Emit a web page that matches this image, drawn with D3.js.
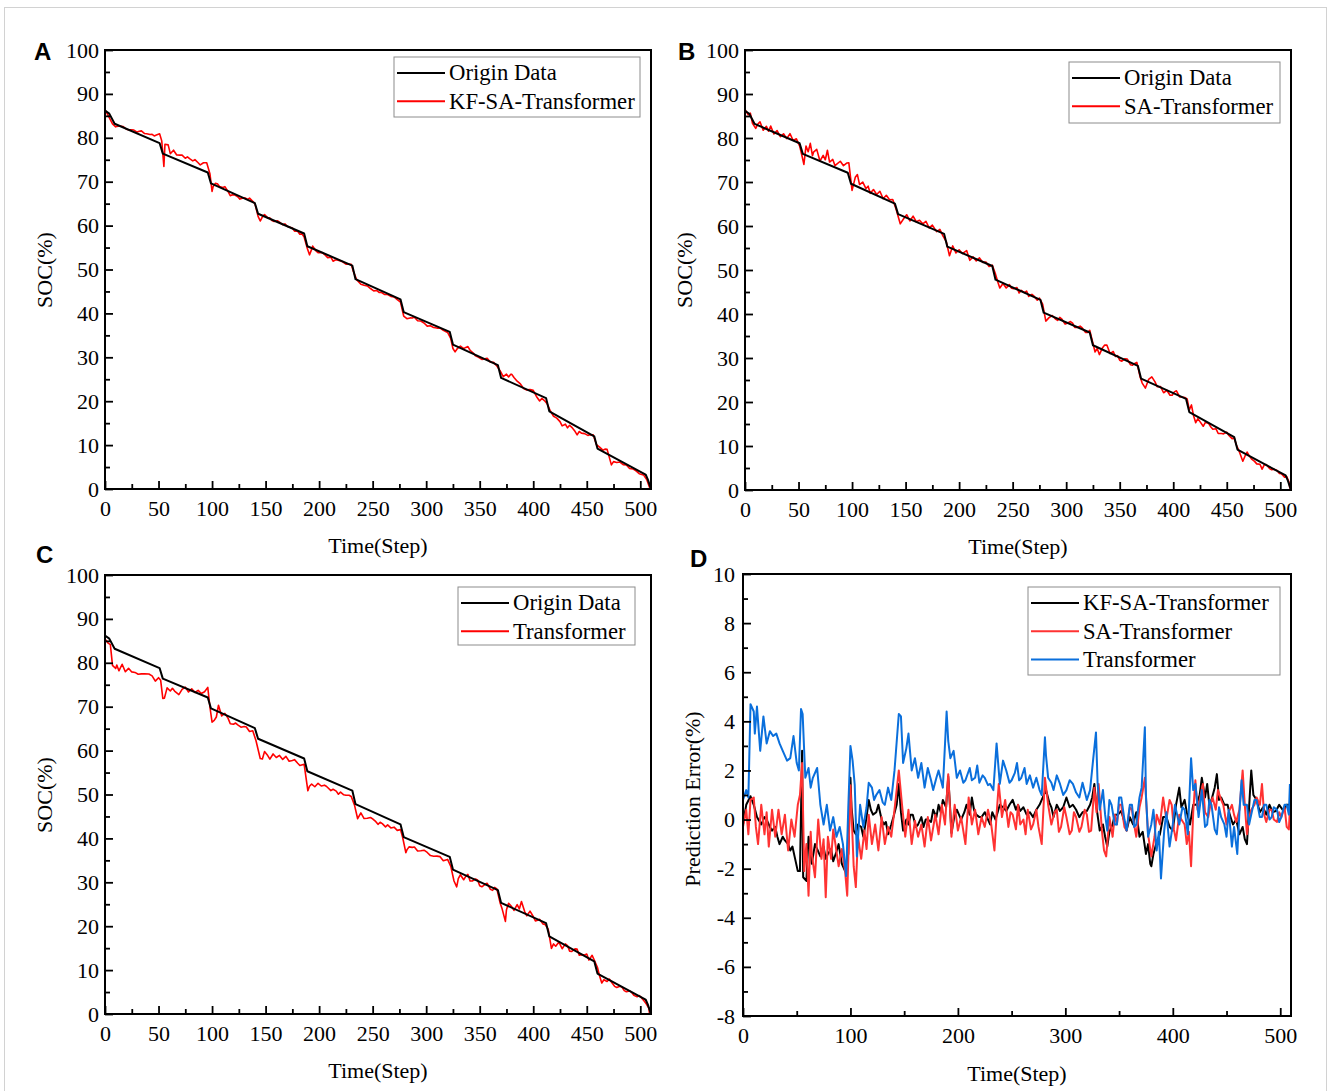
<!DOCTYPE html>
<html>
<head>
<meta charset="utf-8">
<script src="https://cdn.jsdelivr.net/npm/d3@7"></script>
<style>
  body { margin: 0; background: #fff; }
  svg text { font-family: "Liberation Serif", "Times New Roman", serif; fill: #000; }
</style>
</head>
<body>
<svg width="1330" height="1091"></svg>
<script>
// measured SOC staircase (step, %)
const originSteps = [0, 4, 9, 51, 54, 96, 99, 140, 143, 186, 189, 231, 234, 276, 279, 322, 325, 367, 370, 412, 415, 457, 460, 505, 507, 510];
const originSOC = [86.2, 85.5, 83.2, 78.8, 76.4, 72.1, 69.6, 65.1, 62.7, 58.2, 55.3, 50.9, 47.8, 43.2, 40.3, 35.8, 32.9, 28.2, 25.3, 20.7, 17.7, 12, 9.2, 3.3, 2.2, 0];

// prediction errors (origin - prediction)
const errKF = [[0,-0.2],[3,0.6],[7,0.95],[10,0.6],[13,0.1],[17,-0.2],[20,0.1],[22,0],[25,-0.3],[27,-0.45],[30,-0.3],[32,-0.7],[34,-1],[37,-0.7],[39,-0.85],[42,-1.0],[44,-1.26],[46,-1.1],[48,-1.5],[51,-2.1],[53,-2.1],[55,2.8],[56,-2.35],[59,-2.5],[61,-0.7],[64,-1.8],[67,-1.0],[70,-1.3],[72,-1.5],[75,-1.1],[77,-1.6],[79,-1.4],[82,-1.2],[84,-1.7],[87,-1.3],[89,-1.0],[92,-1.8],[95,-2.1],[98,-1.4],[100,1.7],[101,0.5],[103,-0.45],[105,-0.6],[107,-0.2],[110,-0.3],[112,-0.7],[115,0.1],[117,0.8],[119,0.4],[121,0.2],[124,0.3],[126,0.6],[129,0.0],[131,-0.2],[133,-0.1],[135,-0.6],[138,-0.2],[140,0.1],[143,0.6],[145,1.45],[147,0.3],[149,-0.45],[152,0.0],[154,-0.2],[156,0.2],[158,0.2],[161,-0.3],[163,-0.2],[166,0.1],[168,-0.3],[170,0.0],[172,0.0],[175,-0.1],[177,0.4],[180,0.1],[182,0.6],[184,0.3],[186,0.8],[189,0.5],[191,1.75],[193,0.3],[194,-0.55],[197,0.2],[199,0.4],[201,0.2],[203,0.0],[206,0.3],[208,0.6],[211,0.2],[213,0.9],[215,0.4],[217,0.2],[220,0.1],[222,0.1],[225,0.3],[227,0.1],[230,-0.2],[232,0.3],[235,0.0],[237,0.3],[239,0.6],[242,0.5],[245,0.35],[248,0.6],[251,0.8],[254,0.4],[256,0.6],[258,0.35],[261,0.5],[264,0.2],[267,0.3],[270,0.1],[273,0.4],[276,0.6],[279,0.9],[282,1.2],[285,0.7],[287,0.5],[289,0.1],[292,0.6],[295,0.35],[298,0.5],[301,0.9],[304,0.5],[307,0.6],[310,0.4],[313,0.1],[316,0.3],[320,0.35],[323,0.6],[325,0.9],[327,1.45],[329,0.5],[332,-0.45],[335,-0.2],[337,-0.7],[339,-1.1],[341,-0.5],[344,-0.2],[346,0.2],[349,0.2],[352,0.35],[355,-0.1],[357,-0.45],[360,0.1],[363,-0.2],[366,0.3],[369,-0.7],[372,-0.5],[375,-1.4],[377,-1.0],[379,-1.8],[380,-1.9],[382,-1.4],[385,-0.9],[388,-0.6],[391,0.1],[394,0.1],[397,-0.3],[400,-0.45],[403,0.6],[406,1.3],[408,0.5],[411,0.8],[413,0.3],[416,-0.2],[419,0.6],[422,0.6],[425,1.0],[427,1.7],[430,0.9],[432,1.45],[434,0.6],[436,0.8],[439,1.3],[441,1.85],[443,0.8],[445,0.9],[448,0.6],[451,0.6],[453,0.2],[456,-0.2],[459,0.0],[462,-0.6],[465,-0.3],[467,-0.8],[469,-1.0],[471,0.5],[473,2.0],[475,1.0],[478,0.8],[481,0.3],[484,0.5],[487,0.2],[490,0.6],[493,0.3],[496,0.35],[499,0.6],[503,0.35],[506,0.6],[509,0.6]];

const errSA = [[0,-0.3],[3,0.4],[5,-0.6],[7,0.8],[10,0.9],[12,-0.3],[14,-1.0],[17,0.6],[20,-0.6],[22,0.3],[24,-1.1],[27,0.4],[30,-0.7],[33,0.4],[36,-0.6],[39,0.2],[42,-1.26],[45,0.0],[48,-0.7],[51,0.6],[53,1.0],[55,2.3],[57,-2.1],[59,-1.0],[61,-3.1],[63,-0.5],[64,-1.4],[67,-2.35],[70,0.0],[73,-1.6],[75,-0.8],[77,-3.16],[79,-0.7],[82,-1.6],[84,-0.4],[86,-1.0],[89,-1.9],[92,-1.2],[95,-2.1],[97,-3.1],[100,1.4],[103,-1.9],[105,-2.75],[107,-0.7],[110,-1.6],[113,-0.45],[115,-1.2],[117,0.2],[120,-1.0],[123,-0.2],[126,-1.26],[129,0.1],[132,-1.0],[135,-0.3],[138,-0.7],[141,0.4],[145,2.0],[148,0.6],[151,-0.7],[154,0.4],[157,-1.0],[160,-0.05],[163,-0.7],[166,-0.2],[169,-1.1],[172,0.1],[175,-0.85],[179,0.2],[182,-0.6],[185,0.6],[188,-0.2],[191,1.85],[194,-0.7],[197,0.6],[200,-0.45],[203,0.1],[207,-1.0],[210,0.9],[213,-0.2],[216,0.4],[219,-0.6],[222,0.1],[225,-0.3],[228,0.4],[231,-0.2],[234,-1.26],[236,0.2],[238,1.45],[241,0.1],[244,0.8],[247,-0.3],[249,0.3],[251,0.2],[254,-0.4],[256,0.6],[258,-0.2],[261,0.0],[263,-0.6],[265,0.4],[268,-0.4],[270,-0.2],[273,0.4],[275,-0.3],[278,-1.0],[281,1.7],[284,0.6],[287,-0.2],[290,0.3],[292,0.4],[294,-0.5],[296,-0.3],[299,0.5],[301,0.1],[304,-0.6],[306,-0.45],[308,0.3],[310,0.1],[313,-0.5],[315,-0.3],[318,0.4],[320,0.2],[322,-0.5],[324,-0.45],[327,1.3],[329,0.3],[331,1.45],[334,-0.45],[336,-1.26],[338,-1.5],[341,0.1],[344,-0.7],[346,0.2],[348,-0.2],[350,0.6],[352,0.6],[355,-0.3],[357,-0.45],[360,0.5],[362,0.4],[364,-0.2],[366,-0.7],[369,0.5],[371,0.9],[374,1.7],[377,-0.6],[380,-1.5],[383,-0.7],[385,0.2],[388,-0.2],[391,0.9],[394,0.0],[397,0.8],[399,0.6],[401,-0.4],[403,-0.85],[406,0.2],[408,0.0],[411,-0.2],[413,-1.0],[415,-0.5],[417,-1.9],[419,0.3],[421,1.6],[423,0.4],[425,0.8],[428,1.45],[430,0.3],[433,0.1],[435,0.6],[437,0.9],[440,0.4],[442,1.2],[445,0.8],[447,0.6],[450,-0.2],[452,0.3],[455,0.6],[457,0.2],[459,-0.1],[462,0.4],[465,2.0],[467,0.6],[469,-0.6],[471,0.0],[473,0.4],[476,0.6],[478,0.9],[481,0.6],[483,1.45],[485,0.2],[487,-0.1],[490,0.4],[492,0.4],[494,0.0],[497,-0.1],[499,0.3],[501,0.1],[504,0.5],[506,-0.3],[508,-0.4],[509,0.4]];

const errTr = [[0,0.8],[3,1.2],[5,0.9],[7,4.7],[10,4.4],[11,3.5],[13,4.6],[16,2.8],[19,4.2],[22,3.1],[25,3.6],[28,3.4],[31,3.5],[34,3.1],[37,2.8],[41,2.4],[44,2.5],[47,3.4],[50,2.3],[52,2.0],[54,4.5],[55.5,4.3],[58,1.7],[61,2.1],[63,1.3],[65,1.7],[69,2.1],[72,0.6],[75,-0.2],[78,0.6],[81,-0.45],[84,0.1],[87,-0.7],[90,-0.3],[93,-1.0],[96,-2.3],[98,0.5],[100,3.0],[102,2.4],[104,1.4],[106,-1.5],[109,0.6],[112,-0.3],[115,0.5],[117,1.5],[120,1.3],[122,0.8],[124,1.0],[127,1.2],[130,0.7],[132,0.6],[135,1.3],[138,0.8],[141,2.0],[145,4.3],[147,4.2],[149,2.3],[152,2.9],[154,3.5],[157,2.0],[160,2.5],[163,1.7],[166,2.3],[169,1.3],[172,2.1],[175,1.6],[177,1.2],[180,1.7],[182,2.0],[186,1.3],[189.5,4.4],[191,3.2],[193,2.5],[196,2.8],[199,1.7],[202,2.0],[205,1.5],[207,1.6],[211,2.1],[213,1.6],[216,1.7],[218,2.2],[220,1.5],[223,1.8],[225,1.7],[228,1.4],[230,1.45],[233,1.2],[236,3.1],[239,1.45],[242,2.4],[245,2.0],[248,1.5],[250,1.6],[253,1.9],[255,2.3],[257,1.6],[259,1.7],[262,2.1],[264,1.45],[267,1.8],[270,1.3],[273,1.7],[276,1.2],[278,1.0],[281,3.35],[282,2.6],[284,1.7],[287,1.5],[289,1.2],[292,1.8],[295,1.45],[298,1.0],[301,1.2],[304,1.6],[307,1.45],[310,1.1],[313,0.9],[316,1.5],[320,0.8],[323,1.2],[326,2.5],[328.5,3.55],[330,1.5],[332,0.4],[335,1.2],[337,0.2],[339,-0.45],[341,0.8],[343,0.6],[346,-0.2],[348,-0.2],[350,0.9],[352,0.9],[355,0.0],[357,-0.45],[360,0.6],[362,0.6],[364,-0.3],[366,-0.2],[369,0.9],[371,1.3],[374,3.76],[375,1.0],[377,-0.7],[380,-0.2],[382,0.4],[385,-1.26],[387,-0.5],[389,-2.4],[392,-0.45],[394,0.3],[397,-1.1],[400,-0.2],[402,0.6],[404,0.2],[406,-0.2],[409,0.5],[411,0.4],[414,-0.6],[417,2.5],[419,1.2],[421,1.45],[424,0.1],[427,1.2],[430,-0.3],[432,-0.2],[434,0.8],[436,0.6],[439,-0.4],[441,-0.6],[443,0.5],[445,0.1],[448,-0.2],[450,-0.7],[452,0.4],[455,-1.1],[457,-0.3],[460,-1.4],[462,0.3],[464,1.6],[466,0.6],[469,0.6],[471,-0.2],[473,0.2],[476,0.8],[478,0.8],[481,0.1],[483,0.1],[485,0.6],[487,0.6],[490,0.0],[492,0.1],[494,0.5],[497,0.4],[499,-0.1],[501,0.1],[504,0.6],[506,0.6],[508,0.2],[509,1.45]];

const socXTicks = [0, 50, 100, 150, 200, 250, 300, 350, 400, 450, 500];
const socXMinor = [25, 75, 125, 175, 225, 275, 325, 375, 425, 475];
const socYTicks = [0, 10, 20, 30, 40, 50, 60, 70, 80, 90, 100];
const socYMinor = [5, 15, 25, 35, 45, 55, 65, 75, 85, 95];
const errXTicks = [0, 100, 200, 300, 400, 500];
const errXMinor = [50, 150, 250, 350, 450];
const errYTicks = [-8, -6, -4, -2, 0, 2, 4, 6, 8, 10];
const errYMinor = [-7, -5, -3, -1, 1, 3, 5, 7, 9];

const serif = '"Liberation Serif", "Times New Roman", serif';
const svg = d3.select('svg');

// outer frame of the figure
svg.append('rect')
  .attr('x', 4.5).attr('y', 7.5)
  .attr('width', 1322).attr('height', 1100)
  .attr('fill', 'none').attr('stroke', '#d2d2d2');

// origin SOC as a piecewise linear scale over the read breakpoints
const originAt = d3.scaleLinear().domain(originSteps).range(originSOC);
const originPts = originSteps.map((s, i) => [s, originSOC[i]]);
// prediction = origin - error
const predFrom = err => err.map(([s, e]) => [s, originAt(s) - e]);

const panels = [
  { letter: 'A', lp: [34, 60], box: [105, 651, 50, 489], kind: 'soc', err: errKF,
    xt: 553, yt: [52, 270], legend: [394, 57, 246, 60], names: ['Origin Data', 'KF-SA-Transformer'] },
  { letter: 'B', lp: [678, 60], box: [745, 1291, 50, 490], kind: 'soc', err: errSA,
    xt: 554, yt: [692, 270], legend: [1069, 62, 211, 61], names: ['Origin Data', 'SA-Transformer'] },
  { letter: 'C', lp: [36, 563], box: [105, 651, 575, 1014], kind: 'soc', err: errTr,
    xt: 1078, yt: [52, 795], legend: [458, 587, 177, 58], names: ['Origin Data', 'Transformer'] },
  { letter: 'D', lp: [690, 567], box: [743, 1291, 574, 1016], kind: 'err',
    xt: 1081, yt: [700, 799], legend: [1028, 587, 252, 88], names: ['KF-SA-Transformer', 'SA-Transformer', 'Transformer'] }
];

panels.forEach((p, pi) => {
  const [x0, x1, y0, y1] = p.box;
  const soc = p.kind === 'soc';
  const x = d3.scaleLinear().domain([0, 510]).range([x0, x1]);
  const y = d3.scaleLinear().domain(soc ? [0, 100] : [-8, 10]).range([y1, y0]);

  const clipId = 'clip' + pi;
  svg.append('clipPath').attr('id', clipId)
    .append('rect').attr('x', x0).attr('y', y0).attr('width', x1 - x0).attr('height', y1 - y0);

  const line = d3.line().x(d => x(d[0])).y(d => y(d[1]));
  const g = svg.append('g').attr('clip-path', `url(#${clipId})`);

  let series;
  if (soc) {
    series = [
      { pts: predFrom(p.err), color: '#ff0000', w: 1.6 },
      { pts: originPts, color: '#000000', w: 2 }
    ];
  } else {
    series = [
      { pts: errKF, color: '#000000', w: 2 },
      { pts: errSA, color: '#ff3232', w: 2 },
      { pts: errTr, color: '#0a6fdc', w: 2 }
    ];
  }
  series.forEach(s => {
    g.append('path').datum(s.pts)
      .attr('d', line)
      .attr('fill', 'none')
      .attr('stroke', s.color)
      .attr('stroke-width', s.w)
      .attr('stroke-linejoin', 'round');
  });

  // axes with inward ticks
  const xMaj = soc ? socXTicks : errXTicks;
  const xMin = soc ? socXMinor : errXMinor;
  const yMaj = soc ? socYTicks : errYTicks;
  const yMin = soc ? socYMinor : errYMinor;
  const fmt = d => String(d);

  const gx = svg.append('g').attr('transform', `translate(0,${y1})`)
    .call(d3.axisBottom(x).tickValues(xMaj).tickSize(-8).tickPadding(11).tickFormat(fmt));
  svg.append('g').attr('transform', `translate(0,${y1})`)
    .call(d3.axisBottom(x).tickValues(xMin).tickSize(-5).tickFormat(''));
  const gy = svg.append('g').attr('transform', `translate(${x0},0)`)
    .call(d3.axisLeft(y).tickValues(yMaj).tickSize(-8).tickPadding(soc ? 6 : 8).tickFormat(fmt));
  svg.append('g').attr('transform', `translate(${x0},0)`)
    .call(d3.axisLeft(y).tickValues(yMin).tickSize(-5).tickFormat(''));

  svg.selectAll('.domain').remove();
  svg.selectAll('.tick line').attr('stroke', '#000').attr('stroke-width', 1.8);
  [gx, gy].forEach(a => {
    a.attr('font-family', serif).attr('font-size', 22);
    a.selectAll('text').attr('fill', '#000');
  });

  svg.append('rect')
    .attr('x', x0).attr('y', y0).attr('width', x1 - x0).attr('height', y1 - y0)
    .attr('fill', 'none').attr('stroke', '#000').attr('stroke-width', 2);

  // titles
  svg.append('text')
    .attr('x', (x0 + x1) / 2).attr('y', p.xt)
    .attr('text-anchor', 'middle').style('font-size', '22px')
    .text('Time(Step)');
  svg.append('text')
    .attr('transform', `translate(${p.yt[0]},${p.yt[1]}) rotate(-90)`)
    .attr('text-anchor', 'middle').style('font-size', '22px')
    .text(soc ? 'SOC(%)' : 'Prediction Error(%)');

  svg.append('text')
    .attr('x', p.lp[0]).attr('y', p.lp[1])
    .style('font-family', '"Liberation Sans", Arial, sans-serif')
    .style('font-weight', 'bold').style('font-size', '24px')
    .text(p.letter);

  // legend
  const [lx, ly, lw, lh] = p.legend;
  const lg = svg.append('g');
  lg.append('rect').attr('x', lx).attr('y', ly).attr('width', lw).attr('height', lh)
    .attr('fill', '#fff').attr('stroke', '#8c8c8c').attr('stroke-width', 1);
  const colors = soc ? ['#000000', '#ff0000'] : ['#000000', '#ff3232', '#0a6fdc'];
  const rowH = 28.3;
  p.names.forEach((n, i) => {
    const cy = ly + 16 + i * rowH;
    lg.append('line')
      .attr('x1', lx + 3).attr('x2', lx + 51)
      .attr('y1', cy).attr('y2', cy)
      .attr('stroke', colors[i]).attr('stroke-width', 2);
    lg.append('text')
      .attr('x', lx + 55).attr('y', cy).attr('dy', '0.33em')
      .style('font-size', '22.7px')
      .text(n);
  });
});
</script>
</body>
</html>
